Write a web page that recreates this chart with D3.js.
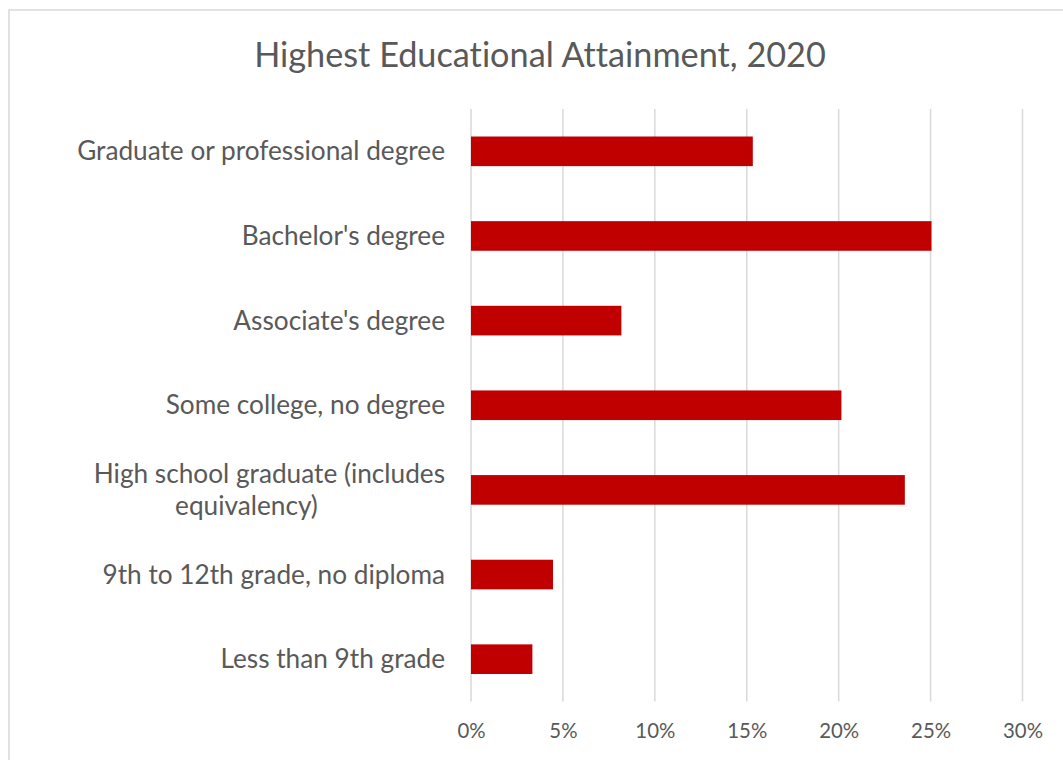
<!DOCTYPE html>
<html>
<head>
<meta charset="utf-8">
<script src="https://cdn.jsdelivr.net/npm/d3@7"></script>
<style>
  html, body { margin: 0; padding: 0; background: #fff; overflow: hidden; }
  svg { display: block; }
  text { font-variant-ligatures: none; font-feature-settings: "liga" 0, "clig" 0; }
</style>
</head>
<body>
<svg id="chart" width="1063" height="760"></svg>
<script>
const title = "Highest Educational Attainment, 2020";
const categories = [
  "Graduate or professional degree",
  "Bachelor's degree",
  "Associate's degree",
  "Some college, no degree",
  "High school graduate (includes equivalency)",
  "9th to 12th grade, no diploma",
  "Less than 9th grade"
];
const categoryLines = [
  ["Graduate or professional degree"],
  ["Bachelor's degree"],
  ["Associate's degree"],
  ["Some college, no degree"],
  ["High school graduate (includes", "equivalency)"],
  ["9th to 12th grade, no diploma"],
  ["Less than 9th grade"]
];
const values = [0.1533, 0.2505, 0.0818, 0.2015, 0.236, 0.0446, 0.0334];
const tickValues = [0, 0.05, 0.10, 0.15, 0.20, 0.25, 0.30];

const svg = d3.select("#chart");
const font = "Lato, 'Open Sans', sans-serif";
const textColor = "#595959";

// chart border (extends past right/bottom edges)
svg.append("rect")
  .attr("x", 9).attr("y", 10)
  .attr("width", 1100).attr("height", 800)
  .attr("fill", "#fff")
  .attr("stroke", "#d9d9d9").attr("stroke-width", 1.5);

const plot = { left: 471, right: 1022.5, top: 109, bottom: 701.5 };

const x = d3.scaleLinear().domain([0, 0.30]).range([plot.left, plot.right]);
const y = d3.scaleBand().domain(categories).range([plot.top, plot.bottom])
  .paddingInner(0.65).paddingOuter(0.325);

// gridlines
svg.append("g").selectAll("line").data(tickValues).join("line")
  .attr("x1", d => x(d)).attr("x2", d => x(d))
  .attr("y1", plot.top).attr("y2", plot.bottom)
  .attr("stroke", "#d9d9d9").attr("stroke-width", 1.5);

// bars
svg.append("g").selectAll("rect").data(values).join("rect")
  .attr("x", x(0))
  .attr("y", (d, i) => y(categories[i]))
  .attr("width", d => x(d) - x(0))
  .attr("height", y.bandwidth())
  .attr("fill", "#c00000");

// helper: font size so text reaches a target width
function fitSize(str, base, target) {
  const t = svg.append("text").attr("font-family", font).attr("font-size", base).text(str);
  const w = t.node().getComputedTextLength();
  t.remove();
  return base * target / w;
}

// x axis tick labels
const tickSize = fitSize("30%", 20, 40);
const xAxis = d3.axisBottom(x).tickValues(tickValues)
  .tickFormat(d3.format(".0%")).tickSize(0).tickPadding(0);
const gx = svg.append("g").attr("transform", `translate(0, ${plot.bottom + 22})`).call(xAxis);
gx.select(".domain").remove();
gx.selectAll("text")
  .attr("font-family", font).attr("font-size", tickSize).attr("fill", textColor);

// category labels
const labelSize = fitSize("Graduate or professional degree", 22, 368);
const labelRight = 445;
const gy = svg.append("g");
categoryLines.forEach((lines, i) => {
  const cy = y(categories[i]) + y.bandwidth() / 2;
  const n = lines.length;
  const lh = 32;
  lines.forEach((ln, j) => {
    const t = gy.append("text")
      .attr("y", cy + (j - (n - 1) / 2) * lh)
      .attr("dy", "0.35em")
      .attr("font-family", font).attr("font-size", labelSize)
      .attr("fill", textColor)
      .text(ln);
    if (n === 1 || j === 0) {
      t.attr("x", labelRight).attr("text-anchor", "end");
    } else {
      t.attr("x", 246.5).attr("text-anchor", "middle");
    }
  });
});

// title
const titleSize = fitSize(title, 30, 572);
svg.append("text")
  .attr("x", 540).attr("y", 55).attr("dy", "0.35em")
  .attr("text-anchor", "middle")
  .attr("font-family", font).attr("font-size", titleSize)
  .attr("fill", textColor)
  .text(title);
</script>
</body>
</html>
